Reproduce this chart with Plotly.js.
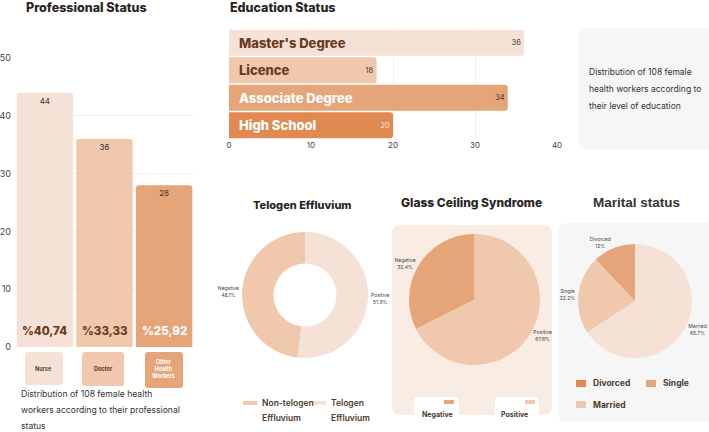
<!DOCTYPE html>
<html><head><meta charset="utf-8">
<script src="https://cdn.plot.ly/plotly-3.0.1.min.js"></script>
<style>html,body{margin:0;padding:0;background:#fff}#chart{width:709px;height:432px}</style>
</head><body><div id="chart"></div>
<script>
// ---------- DATA ----------
const profCategories = ['Nurse', 'Doctor', 'Other Health Workers'];
const profTickLabels = ['Nurse', 'Doctor', 'Other<br>Health<br>Workers'];
const profCounts = [44, 36, 28];
const profPercentLabels = ['%40,74', '%33,33', '%25,92'];
const profNote = ['Distribution of 108 female health', 'workers according to their professional', 'status'];

const eduCategories = ["Master's Degree", 'Licence', 'Associate Degree', 'High School'];
const eduCounts = [36, 18, 34, 20];
const eduNote = ['Distribution of 108 female', 'health workers according to', 'their level of education'];

const telogenLabels = ['Positive', 'Negative'];
const telogenValues = [56, 52];
const telogenLegendLabels = ['Non-telogen<br>Effluvium', 'Telogen<br>Effluvium'];

const glassLabels = ['Positive', 'Negative'];
const glassValues = [73, 35];
const glassLegendLabels = ['Negative', 'Positive'];

const maritalLabels = ['Married', 'Single', 'Divorced'];
const maritalValues = [71, 24, 13];
const maritalLegendLabels = ['Divorced', 'Single', 'Married'];

// ---------- STYLE ----------
const W = 709, H = 432;
const C1 = '#f6e1d6', C2 = '#efc8ae', C3 = '#e6a579', C4 = '#e08a52';
const DARK = '#2a2522', BROWN = '#6a3b20';
const FONT = 'Inter, "Open Sans", sans-serif';
const px = x => x / W;
const py = y => 1 - y / H;

function roundRect(x0, y0, x1, y1, r, fill) {
  const p = (x, y) => px(x).toFixed(5) + ',' + py(y).toFixed(5);
  const path = 'M' + p(x0 + r, y0) + ' L' + p(x1 - r, y0) + ' Q' + p(x1, y0) + ' ' + p(x1, y0 + r) +
    ' L' + p(x1, y1 - r) + ' Q' + p(x1, y1) + ' ' + p(x1 - r, y1) +
    ' L' + p(x0 + r, y1) + ' Q' + p(x0, y1) + ' ' + p(x0, y1 - r) +
    ' L' + p(x0, y0 + r) + ' Q' + p(x0, y0) + ' ' + p(x0 + r, y0) + ' Z';
  return {type: 'path', xref: 'paper', yref: 'paper', path: path, fillcolor: fill, line: {width: 0}, layer: 'below'};
}
function rect(x0, y0, x1, y1, fill) {
  return {type: 'rect', xref: 'paper', yref: 'paper', x0: px(x0), x1: px(x1), y0: py(y1), y1: py(y0),
    fillcolor: fill, line: {width: 0}, layer: 'above'};
}
function txt(x, y, text, size, opts) {
  return Object.assign({xref: 'paper', yref: 'paper', x: px(x), y: py(y), text: text, showarrow: false,
    xanchor: 'left', yanchor: 'middle', font: {family: FONT, size: size, color: DARK}}, opts || {});
}

const profColors = [C1, C2, C3];
const eduColors = [C1, C2, C3, C4];
const pieLabelFont = {family: FONT, size: 5, color: '#444'};

const traces = [
  {
    type: 'bar', x: profCategories, y: profCounts, xaxis: 'x', yaxis: 'y',
    marker: {color: profColors}, text: profCounts.map(String), textposition: 'inside',
    insidetextanchor: 'end', textangle: 0, constraintext: 'none',
    textfont: {family: FONT, size: 8, color: '#3b302a'}, hoverinfo: 'skip'
  },
  {
    type: 'bar', orientation: 'h', y: eduCategories, x: eduCounts, xaxis: 'x2', yaxis: 'y2',
    marker: {color: eduColors}, text: eduCounts.map(String), textposition: 'inside',
    insidetextanchor: 'end', textangle: 0, constraintext: 'none',
    textfont: {family: FONT, size: 7.5, color: ['#4a3a30', '#4a3a30', '#4a3a30', '#fbe9dc']}, hoverinfo: 'skip'
  },
  {
    type: 'pie', labels: telogenLabels, values: telogenValues, hole: 0.5, sort: false,
    direction: 'clockwise', rotation: 0, marker: {colors: [C1, C2]},
    textinfo: 'label+percent', textposition: 'outside', texttemplate: '%{label}<br>%{percent}',
    outsidetextfont: pieLabelFont, showlegend: false,
    domain: {x: [px(242), px(368)], y: [py(358), py(232)]}, hoverinfo: 'skip'
  },
  {
    type: 'pie', labels: glassLabels, values: glassValues, sort: false,
    direction: 'clockwise', rotation: 0, marker: {colors: [C2, C3]},
    textinfo: 'label+percent', textposition: 'outside', texttemplate: '%{label}<br>%{percent}',
    outsidetextfont: pieLabelFont, showlegend: false,
    domain: {x: [px(409), px(540)], y: [py(365), py(234)]}, hoverinfo: 'skip'
  },
  {
    type: 'pie', labels: maritalLabels, values: maritalValues, sort: false,
    direction: 'clockwise', rotation: 0, marker: {colors: [C1, C2, C3]},
    textinfo: 'label+percent', textposition: 'outside', texttemplate: '%{label}<br>%{percent}',
    outsidetextfont: pieLabelFont, showlegend: false,
    domain: {x: [px(578), px(692)], y: [py(358), py(244)]}, hoverinfo: 'skip'
  }
];

const shapes = [
  roundRect(578, 28, 716, 149, 9, '#f6f6f6'),
  roundRect(392, 225, 552, 415, 9, '#f9ece3'),
  roundRect(558, 223, 716, 422, 9, '#f6f6f6'),
  roundRect(414, 397, 459, 419, 4, '#ffffff'),
  roundRect(495, 397, 539, 419, 4, '#ffffff'),
  roundRect(25, 352, 63, 385, 3, C1),
  roundRect(82, 352, 124, 386, 3, C2),
  roundRect(145, 352, 183, 388, 3, C3),
  // legends
  rect(243, 401, 257, 405, C2),
  rect(312, 401, 326, 405, C1),
  rect(444, 400, 454, 404, C3),
  rect(525, 400, 535, 404, C2),
  rect(576, 380, 586, 387, C4),
  rect(646, 380, 656, 387, C3),
  rect(576, 401, 586, 408, C2)
];

const annotations = [
  txt(86, 7, 'Professional Status', 12.5, {xanchor: 'center', font: {family: FONT, size: 12.5, color: DARK, weight: 800}}),
  txt(228, 7, 'Education Status', 12.5, {font: {family: FONT, size: 12.5, color: DARK, weight: 800}}),
  txt(302, 205, 'Telogen Effluvium', 11, {xanchor: 'center', font: {family: FONT, size: 11, color: DARK, weight: 800}}),
  txt(471, 202, 'Glass Ceiling Syndrome', 12, {xanchor: 'center', font: {family: FONT, size: 12, color: DARK, weight: 800}}),
  txt(636, 202, 'Marital status', 13, {xanchor: 'center', font: {family: '"Liberation Sans", Arial, sans-serif', size: 13.5, color: '#333', weight: 700}}),
  // legend texts
  txt(260, 403, telogenLegendLabels[0].split('<br>')[0], 8.5, {font: {family: FONT, size: 8.5, color: '#4a3a30', weight: 600}}),
  txt(260, 418, telogenLegendLabels[0].split('<br>')[1], 8.5, {font: {family: FONT, size: 8.5, color: '#4a3a30', weight: 600}}),
  txt(329, 403, telogenLegendLabels[1].split('<br>')[0], 8.5, {font: {family: FONT, size: 8.5, color: '#4a3a30', weight: 600}}),
  txt(329, 418, telogenLegendLabels[1].split('<br>')[1], 8.5, {font: {family: FONT, size: 8.5, color: '#4a3a30', weight: 600}}),
  txt(420, 414, glassLegendLabels[0], 7, {font: {family: FONT, size: 7, color: '#4a3a30', weight: 700}}),
  txt(499, 414, glassLegendLabels[1], 7, {font: {family: FONT, size: 7, color: '#4a3a30', weight: 700}}),
  txt(591, 383, maritalLegendLabels[0], 8.5, {font: {family: FONT, size: 8.5, color: '#4a3a30', weight: 700}}),
  txt(661, 383, maritalLegendLabels[1], 8.5, {font: {family: FONT, size: 8.5, color: '#4a3a30', weight: 700}}),
  txt(591, 405, maritalLegendLabels[2], 8.5, {font: {family: FONT, size: 8.5, color: '#4a3a30', weight: 700}})
];

profNote.forEach((t, i) => annotations.push(txt(19, 394 + i * 16, t, 8.6, {font: {family: FONT, size: 8.6, color: '#333'}})));
eduNote.forEach((t, i) => annotations.push(txt(587, 72 + i * 17, t, 8.5, {font: {family: FONT, size: 8.5, color: '#333'}})));

// percent labels inside professional bars
profCategories.forEach((c, i) => annotations.push({
  xref: 'x', yref: 'y', x: c, y: 0, yanchor: 'bottom', yshift: 7, showarrow: false,
  text: profPercentLabels[i], font: {family: FONT, size: 11.5, weight: 800, color: i < 2 ? BROWN : '#ffffff'}
}));
// category box labels
profCategories.forEach((c, i) => annotations.push({
  xref: 'x', yref: 'paper', x: c, y: py(369), yanchor: 'middle', showarrow: false, xshift: -1,
  text: profTickLabels[i], font: {family: FONT, size: 5.5, weight: 700, color: i < 2 ? '#5a3a28' : '#ffffff'}
}));
// education category labels inside bars
eduCategories.forEach((c, i) => annotations.push({
  xref: 'x2', yref: 'y2', x: 0, y: c, xanchor: 'left', xshift: 8, showarrow: false,
  text: c, font: {family: FONT, size: 13, weight: 800, color: i < 2 ? BROWN : '#ffffff'}
}));

const layout = {
  width: W, height: H, margin: {l: 0, r: 0, t: 0, b: 0},
  paper_bgcolor: '#ffffff', plot_bgcolor: 'rgba(0,0,0,0)',
  showlegend: false, bargap: 0.055, barcornerradius: 3, hovermode: false,
  font: {family: FONT},
  xaxis: {domain: [px(15), px(194)], anchor: 'y', type: 'category', showticklabels: false,
    showgrid: false, zeroline: false, showline: false, fixedrange: true},
  yaxis: {domain: [py(347), py(58)], anchor: 'x', range: [0, 50], dtick: 10, showgrid: true,
    gridcolor: '#f0f0f0', zeroline: false, showline: false, ticks: '', ticklabelstandoff: 3,
    tickfont: {family: FONT, size: 9, color: '#444'}, fixedrange: true},
  xaxis2: {domain: [px(229), px(557)], anchor: 'y2', range: [0, 40], dtick: 10, showgrid: true,
    gridcolor: '#f0f0f0', zeroline: false, showline: false, ticks: '',
    tickfont: {family: FONT, size: 8, color: '#444'}, fixedrange: true},
  yaxis2: {domain: [py(139), py(29)], anchor: 'x2', type: 'category', autorange: 'reversed',
    showticklabels: false, showgrid: false, zeroline: false, fixedrange: true},
  shapes: shapes,
  annotations: annotations
};

Plotly.newPlot('chart', traces, layout, {displayModeBar: false, staticPlot: true});
</script>
</body></html>
